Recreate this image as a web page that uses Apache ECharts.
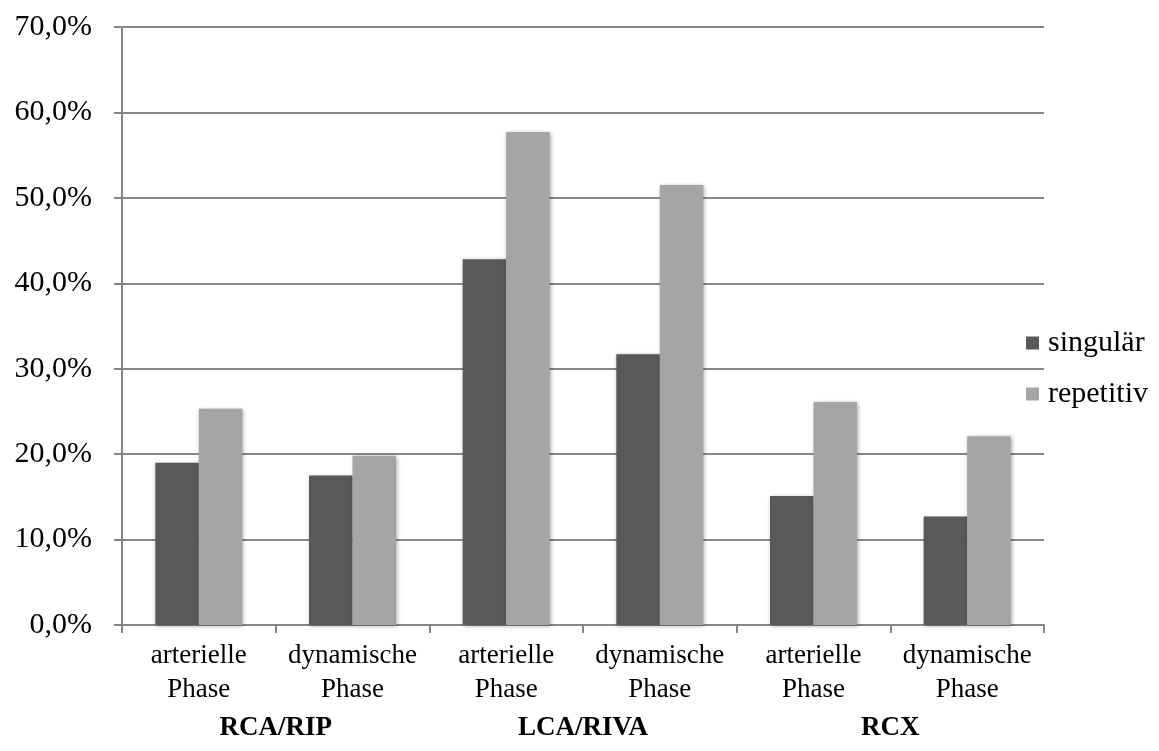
<!DOCTYPE html>
<html>
<head>
<meta charset="utf-8">
<script src="https://cdn.jsdelivr.net/npm/echarts@6/dist/echarts.min.js"></script>
<style>
html,body{margin:0;padding:0;background:#fff;}
#chart{width:1159px;height:751px;}
</style>
</head>
<body>
<div id="chart"></div>
<script>
var categories = ['arterielle\nPhase','dynamische\nPhase','arterielle\nPhase','dynamische\nPhase','arterielle\nPhase','dynamische\nPhase'];
var groups = ['RCA/RIP','LCA/RIVA','RCX'];
var singular = [19.0, 17.5, 42.8, 31.7, 15.1, 12.7];
var repetitiv = [25.3, 19.8, 57.7, 51.5, 26.1, 22.1];
var seriesNames = ['singulär','repetitiv'];

var FONT = '"Liberation Serif","Times New Roman",serif';
var chart = echarts.init(document.getElementById('chart'), null, {renderer:'canvas'});
var shadow = {shadowBlur:4, shadowColor:'rgba(0,0,0,0.35)', shadowOffsetX:1, shadowOffsetY:1};
chart.setOption({
  animation:false,
  backgroundColor:'#ffffff',
  grid:{left:122, top:27, width:922, height:598, containLabel:false},
  legend:{
    orient:'vertical', left:1021, top:323,
    itemWidth:13, itemHeight:13, itemGap:21,
    icon:'rect',
    textStyle:{fontFamily:FONT, fontSize:30, color:'#000', lineHeight:30, padding:[0,0,0,4]},
    data:seriesNames
  },
  xAxis:[{
    type:'category', data:categories, position:'bottom',
    axisLine:{lineStyle:{color:'#878787', width:2}},
    axisTick:{show:true, length:8, alignWithLabel:false, lineStyle:{color:'#878787', width:2}},
    axisLabel:{fontFamily:FONT, fontSize:27, color:'#000', lineHeight:34, margin:14, interval:0}
  },{
    type:'category', data:groups, position:'bottom', gridIndex:0,
    axisLine:{show:false}, axisTick:{show:false},
    axisLabel:{fontFamily:FONT, fontSize:27, fontWeight:'bold', color:'#000', margin:90, interval:0}
  }],
  yAxis:{
    type:'value', min:0, max:70, interval:10,
    axisLine:{show:true, lineStyle:{color:'#878787', width:2}},
    axisTick:{show:true, length:8, lineStyle:{color:'#878787', width:2}},
    splitLine:{lineStyle:{color:'#878787', width:2}},
    axisLabel:{fontFamily:FONT, fontSize:30, color:'#000', margin:30,
      formatter:function(v){return v.toFixed(1).replace('.',',')+'%';}}
  },
  series:[{
    name:seriesNames[0], type:'bar', data:singular, xAxisIndex:0,
    barWidth:43.5, barGap:'0%',
    itemStyle:Object.assign({color:'#595959'}, shadow)
  },{
    name:seriesNames[1], type:'bar', data:repetitiv, xAxisIndex:0,
    barWidth:43.5, barGap:'0%',
    itemStyle:Object.assign({color:'#a5a5a5'}, shadow)
  }]
});
</script>
</body>
</html>
